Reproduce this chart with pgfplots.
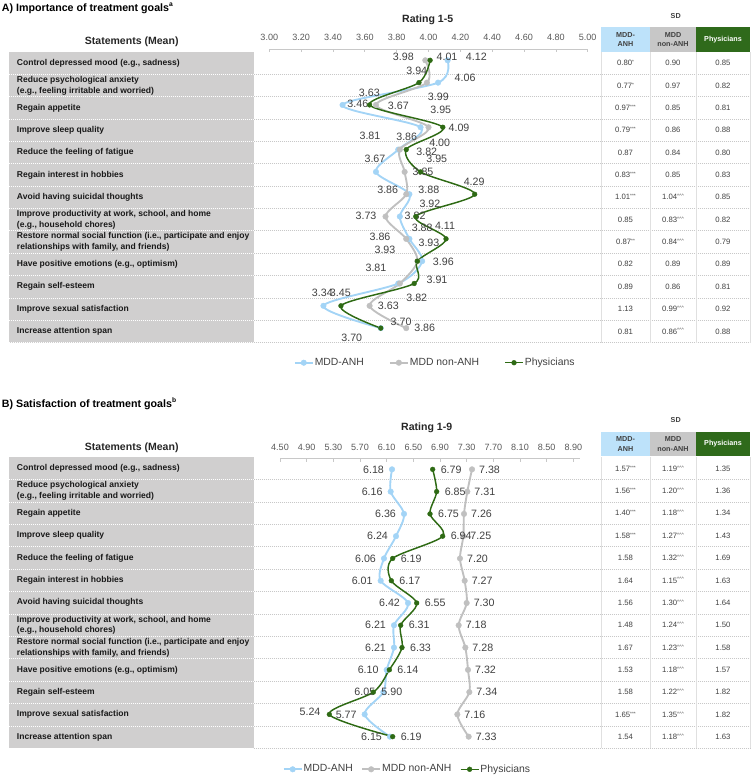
\documentclass[border=0pt]{standalone}
\usepackage{fontspec}
\setmainfont{Liberation Sans}
\setsansfont{Liberation Sans}
\usepackage{pgfplots}
\usepackage{pgfplotstable}
\pgfplotsset{compat=1.18}

\definecolor{anh}{RGB}{163,212,246}
\definecolor{non}{RGB}{192,192,192}
\definecolor{phy}{RGB}{46,106,20}
\definecolor{boxgray}{RGB}{208,207,207}
\definecolor{hdrblue}{RGB}{189,226,250}
\definecolor{hdrgray}{RGB}{199,199,199}
\definecolor{hdrgreen}{RGB}{47,106,27}
\definecolor{labgray}{RGB}{64,64,64}
\definecolor{tickgray}{RGB}{89,89,89}
\definecolor{rulegray}{RGB}{200,200,200}

% y = row from the bottom (13 = first statement); dx, dy = label offset in px
\pgfplotstableread{
x y dx dy
4.12 13 28.7 3.6
4.06 12 27 4.3
3.46 11 15.3 0.9
3.95 10 20.2 17.2
3.81 9 -28.3 13.6
3.67 8 -1 12.9
3.88 7 19.4 4.2
3.82 6 15.2 0.8
3.88 5 12.8 10.6
3.96 4 21.2 -0.5
3.81 3 -22.3 15.2
3.34 2 -1.1 12.5
3.70 1 20.3 6.4
}\Aanh
\pgfplotstableread{
x y dx dy
3.98 13 -22 3.6
3.99 12 11.4 -14.1
3.67 11 22.4 -0.4
4.00 10 11.2 -15.5
3.82 9 26.9 -2.1
3.85 8 18.4 -0.1
3.86 7 -18.5 4.2
3.73 6 -19.5 0.8
3.86 5 -26.2 1.6
3.93 4 -32.4 11.2
3.82 3 16.9 -14.5
3.63 2 18.7 0.1
3.86 1 18.5 0.1
}\Anon
\pgfplotstableread{
x y dx dy
4.01 13 16.9 3
3.94 12 -2.2 11.6
3.63 11 -0.3 12.6
4.09 10 16.2 -0.1
3.86 9 0.5 12.9
3.95 8 16.2 12.9
4.29 7 -0.5 12.5
3.92 6 14.2 12.5
4.11 5 -1 12.9
3.93 4 11.6 18.5
3.91 3 22.8 3.5
3.45 2 -0.6 12.5
3.70 1 -29 -10.2
}\Aphy

\pgfplotstableread{
x y dx dy
6.18 13 -18.5 0
6.16 12 -18.5 0
6.36 11 -18.5 0
6.24 10 -18.5 0
6.06 9 -18.5 0
6.01 8 -18.5 0
6.42 7 -18.5 0
6.21 6 -18.5 0
6.21 5 -18.5 0
6.10 4 -18.5 0
6.05 3 -18.5 0
5.77 2 -18.5 0
6.15 1 -18.5 0
}\Banh
\pgfplotstableread{
x y dx dy
7.38 13 17.5 0
7.31 12 17.5 0
7.26 11 17.5 0
7.25 10 17.5 0
7.20 9 17.5 0
7.27 8 17.5 0
7.30 7 17.5 0
7.18 6 17.5 0
7.28 5 17.5 0
7.32 4 17.5 0
7.34 3 17.5 0
7.16 2 17.5 0
7.33 1 17.5 0
}\Bnon
\pgfplotstableread{
x y dx dy
6.79 13 18.5 0
6.85 12 18.5 0
6.75 11 18.5 0
6.94 10 18.5 0
6.19 9 18.5 0
6.17 8 18.5 0
6.55 7 18.5 0
6.31 6 18.5 0
6.33 5 18.5 0
6.14 4 18.5 0
5.90 3 18.5 0
5.24 2 -19.3 2.7
6.19 1 18.5 0
}\Bphy

\pgfplotsset{
  lab/.style={
    point meta=explicit,
    nodes near coords={\pgfmathprintnumber[fixed,fixed zerofill,precision=2,assume math mode=true]{\pgfplotspointmeta}},
    visualization depends on={\thisrow{dx}\as\labdx},
    visualization depends on={\thisrow{dy}\as\labdy},
    every node near coord/.append style={anchor=center, inner sep=0pt,
      font=\fontsize{8}{9}\selectfont, text=labgray,
      xshift=\labdx*0.75pt, yshift=\labdy*0.75pt},
  },
  anhline/.style={color=anh, line width=1.4pt, smooth, mark=*, mark size=2.1pt, mark options={line width=0.3pt}},
  nonline/.style={color=non, line width=1.4pt, smooth, mark=*, mark size=2.1pt, mark options={line width=0.3pt}},
  phyline/.style={color=phy, line width=1.1pt, smooth, mark=*, mark size=1.8pt, mark options={line width=0.3pt}},
  rowaxis/.style={
    anchor=north west, scale only axis,
    ymin=0.5, ymax=13.5,
    axis x line=top, axis y line=none,
    axis line style={-, draw=rulegray, line width=0.6pt},
    tick align=inside, major tick length=2.5pt,
    tick style={draw=rulegray, line width=0.5pt},
    ytick=\empty,
    scaled x ticks=false,
    xticklabel={\pgfmathprintnumber[fixed,fixed zerofill,precision=2,assume math mode=true]{\tick}},
    xticklabel style={anchor=base, text=tickgray, font=\fontsize{6.8}{8}\selectfont},
    clip=false,
    legend columns=-1,
    legend image code/.code={\draw[mark repeat=2,mark phase=2] plot coordinates {(0pt,0pt) (6.75pt,0pt) (13.5pt,0pt)};},
    legend style={draw=none, fill=none, anchor=center, inner sep=0pt,
      font=\fontsize{7.8}{9}\selectfont, nodes={inner sep=0.8pt, text=labgray}},
  },
}

\newcommand\sig[1]{\raisebox{0.5ex}{\fontsize{3.6}{4}\selectfont #1}}
\newcommand\stA{\sig{*}}
\newcommand\stB{\sig{**}}
\newcommand\stC{\sig{***}}
\newcommand\crt{\sig{\textasciicircum\textasciicircum\textasciicircum}}

\def\statementlist{1/{Control depressed mood (e.g., sadness)},
  2/{Reduce psychological anxiety\\(e.g., feeling irritable and worried)},
  3/{Regain appetite},
  4/{Improve sleep quality},
  5/{Reduce the feeling of fatigue},
  6/{Regain interest in hobbies},
  7/{Avoid having suicidal thoughts},
  8/{Improve productivity at work, school, and home\\(e.g., household chores)},
  9/{Restore normal social function (i.e., participate and enjoy\\relationships with family, and friends)},
  10/{Have positive emotions (e.g., optimism)},
  11/{Regain self-esteem},
  12/{Improve sexual satisfaction},
  13/{Increase attention span}}

% #1 top of rows (px), #2 row height (px)
\newcommand\drawrows[2]{%
  \fill[boxgray] (8.8,#1) rectangle (253.5,{#1+13*#2});
  \foreach \k in {1,...,13}{
    \draw[white, dash pattern=on 0.6pt off 0.9pt, line width=0.5pt] (8.8,{#1+\k*#2}) -- (253.5,{#1+\k*#2});
    \draw[rulegray, dash pattern=on 0.6pt off 0.9pt, line width=0.5pt] (253.5,{#1+\k*#2}) -- (750,{#1+\k*#2});
  }
  \foreach \xx in {601,650,696,750}
    \draw[black!12, line width=0.4pt] (\xx,#1) -- (\xx,{#1+13*#2});
  \foreach \k/\txt in \statementlist{
    \node[anchor=west, align=left, inner sep=0pt, text=black!90,
      font=\bfseries\fontsize{6.4}{8}\selectfont] at (16.7,{#1+(\k-0.5)*#2}) {\txt};
  }
}
% #1 header top (px)
\newcommand\sdheader[1]{%
  \node[font=\bfseries\fontsize{5.4}{6.5}\selectfont, text=labgray] at (675.7,{#1-11.6}) {SD};
  \fill[hdrblue] (601,#1) rectangle (650,{#1+24.4});
  \fill[hdrgray] (650,#1) rectangle (696,{#1+24.4});
  \fill[hdrgreen] (696,#1) rectangle (750,{#1+24.4});
  \node[align=center, inner sep=0pt, text=black!75, font=\bfseries\fontsize{5.4}{7}\selectfont] at (625.5,{#1+12.2}) {MDD-\\ANH};
  \node[align=center, inner sep=0pt, text=black!75, font=\bfseries\fontsize{5.4}{7}\selectfont] at (673,{#1+12.2}) {MDD\\non-ANH};
  \node[inner sep=0pt, text=white, font=\bfseries\fontsize{5.4}{7}\selectfont] at (723,{#1+12.2}) {Physicians};
}
% #1 top, #2 row height, #3 list
\newcommand\sdvalues[3]{%
  \foreach \k/\a/\b/\c in {#3}{
    \node[inner sep=0pt, text=labgray, font=\fontsize{5.8}{7}\selectfont] at (625.5,{#1+(\k-0.5)*#2}) {\a};
    \node[inner sep=0pt, text=labgray, font=\fontsize{5.8}{7}\selectfont] at (673,{#1+(\k-0.5)*#2}) {\b};
    \node[inner sep=0pt, text=labgray, font=\fontsize{5.8}{7}\selectfont] at (723,{#1+(\k-0.5)*#2}) {\c};
  }
}

\begin{document}
\begin{tikzpicture}
\useasboundingbox (0,0) rectangle (564.75pt,-582.75pt);

\begin{scope}[x=0.75pt, y=-0.75pt]
  % ---------- panel A ----------
  \node[anchor=base west, inner sep=0pt, font=\bfseries\fontsize{8}{9.6}\selectfont]
    at (1.7,11.7) {A) Importance of treatment goals\raisebox{0.9ex}{\fontsize{5}{6}\selectfont a}};
  \node[anchor=base, inner sep=0pt, font=\bfseries\fontsize{7.9}{9}\selectfont, text=black!85] at (427.7,23) {Rating 1-5};
  \node[anchor=base, inner sep=0pt, font=\bfseries\fontsize{7.9}{9}\selectfont, text=black!85] at (131.7,44.5) {Statements (Mean)};
  \drawrows{52}{22.35}
  \sdheader{27.3}
  \sdvalues{52}{22.35}{1/0.80\stA/0.90/0.85, 2/0.77\stA/0.97/0.82, 3/0.97\stC/0.85/0.81,
    4/0.79\stC/0.86/0.88, 5/0.87/0.84/0.80, 6/0.83\stC/0.85/0.83, 7/1.01\stC/1.04\crt/0.85,
    8/0.85/0.83\crt/0.82, 9/0.87\stB/0.84\crt/0.79, 10/0.82/0.89/0.89, 11/0.89/0.86/0.81,
    12/1.13/0.99\crt/0.92, 13/0.81/0.86\crt/0.88}

  % ---------- panel B ----------
  \node[anchor=base west, inner sep=0pt, font=\bfseries\fontsize{8}{9.6}\selectfont]
    at (1.7,407.5) {B) Satisfaction of treatment goals\raisebox{0.9ex}{\fontsize{5}{6}\selectfont b}};
  \node[anchor=base, inner sep=0pt, font=\bfseries\fontsize{7.9}{9}\selectfont, text=black!85] at (426.7,430) {Rating 1-9};
  \node[anchor=base, inner sep=0pt, font=\bfseries\fontsize{7.9}{9}\selectfont, text=black!85] at (131.7,450) {Statements (Mean)};
  \drawrows{457.3}{22.38}
  \sdheader{431.7}
  \sdvalues{457.3}{22.38}{1/1.57\stC/1.19\crt/1.35, 2/1.56\stC/1.20\crt/1.36, 3/1.40\stC/1.18\crt/1.34,
    4/1.58\stC/1.27\crt/1.43, 5/1.58/1.32\crt/1.69, 6/1.64/1.15\crt/1.63, 7/1.56/1.30\crt/1.64,
    8/1.48/1.24\crt/1.50, 9/1.67/1.23\crt/1.58, 10/1.53/1.18\crt/1.57, 11/1.58/1.22\crt/1.82,
    12/1.65\stC/1.35\crt/1.82, 13/1.54/1.18\crt/1.63}
\end{scope}

\begin{axis}[rowaxis,
  at={(201.98pt,-36.86pt)}, width=238.8pt, height=217.6pt,
  xmin=3, xmax=5,
  xtick={3,3.2,3.4,3.6,3.8,4,4.2,4.4,4.6,4.8,5},
  xticklabel style={yshift=6.3pt},
  legend style={at={(0.5195,-0.0808)}, /tikz/every even column/.append style={column sep=18pt}},
]
\addplot[anhline, lab] table[x=x, y=y, meta=x] {\Aanh};
\addplot[nonline, lab] table[x=x, y=y, meta=x] {\Anon};
\addplot[phyline, lab] table[x=x, y=y, meta=x] {\Aphy};
\legend{MDD-ANH, MDD non-ANH, Physicians}
\end{axis}

\begin{axis}[rowaxis,
  at={(210pt,-343.65pt)}, width=225pt, height=217.2pt,
  xmin=4.5, xmax=9.0,
  xtick={4.5,4.9,5.3,5.7,6.1,6.5,6.9,7.3,7.7,8.1,8.5,8.9},
  xticklabel style={yshift=5.9pt},
  legend style={at={(0.4233,-0.0742)}, /tikz/every even column/.append style={column sep=5.5pt}},
]
\addplot[anhline, lab] table[x=x, y=y, meta=x] {\Banh};
\addplot[nonline, lab] table[x=x, y=y, meta=x] {\Bnon};
\addplot[phyline, lab] table[x=x, y=y, meta=x] {\Bphy};
\legend{MDD-ANH, MDD non-ANH, Physicians}
\end{axis}
\end{tikzpicture}
\end{document}
